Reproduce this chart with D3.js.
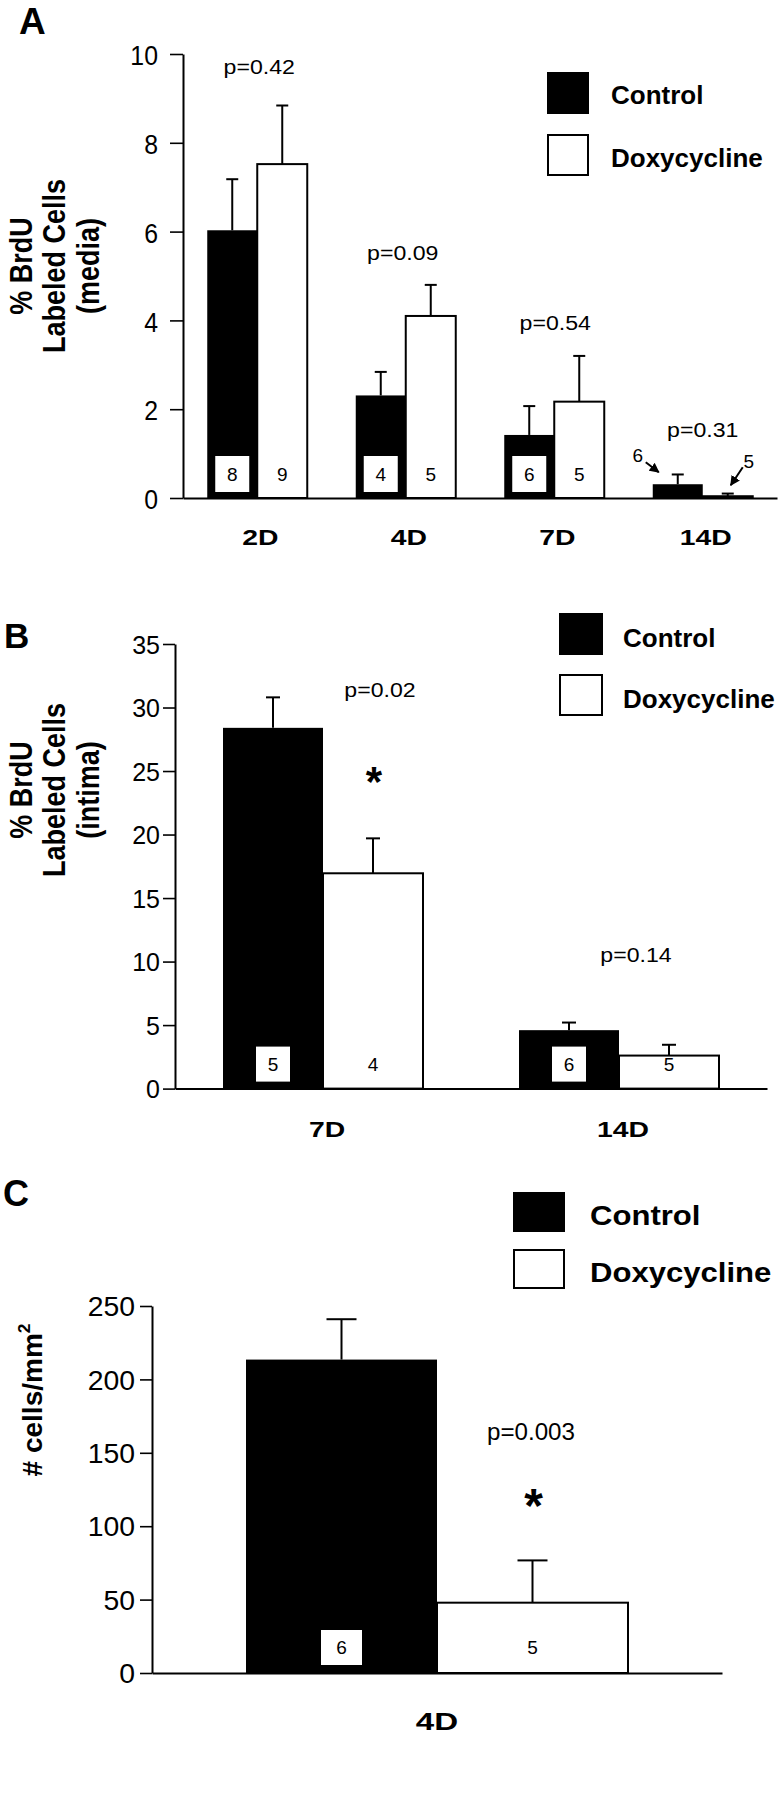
<!DOCTYPE html>
<html><head><meta charset="utf-8">
<script src="https://cdn.jsdelivr.net/npm/d3@7"></script>
<style>
body{margin:0;background:#fff}
svg{display:block;background:#fff}
text{font-family:"Liberation Sans",Arial,Helvetica,sans-serif;fill:#000}
</style>
</head><body>
<svg id="chart" width="778" height="1800"></svg>
<script>
// ---------------- DATA ----------------
const seriesNames = ["Control", "Doxycycline"];

// Panel A: % BrdU labeled cells (media)
const aCategories = ["2D", "4D", "7D", "14D"];
const aControl    = [6.03, 2.31, 1.42, 0.31];
const aControlErr = [1.15, 0.53, 0.65, 0.22];
const aDoxy       = [7.52, 4.10, 2.17, 0.04];
const aDoxyErr    = [1.32, 0.70, 1.03, 0.06];
const aControlN   = [8, 4, 6, 6];
const aDoxyN      = [9, 5, 5, 5];
const aPValues    = ["p=0.42", "p=0.09", "p=0.54", "p=0.31"];
const aSignificant = [false, false, false, false];
const aYTicks     = [0, 2, 4, 6, 8, 10];
const aYTitle     = ["% BrdU", "Labeled Cells", "(media)"];

// Panel B: % BrdU labeled cells (intima)
const bCategories = ["7D", "14D"];
const bControl    = [28.4, 4.6];
const bControlErr = [2.4, 0.6];
const bDoxy       = [16.95, 2.6];
const bDoxyErr    = [2.75, 0.85];
const bControlN   = [5, 6];
const bDoxyN      = [4, 5];
const bPValues    = ["p=0.02", "p=0.14"];
const bSignificant = [true, false];
const bYTicks     = [0, 5, 10, 15, 20, 25, 30, 35];
const bYTitle     = ["% BrdU", "Labeled Cells", "(intima)"];

// Panel C: # cells/mm2
const cCategories = ["4D"];
const cControl    = [213.5];
const cControlErr = [27.5];
const cDoxy       = [47.9];
const cDoxyErr    = [28.8];
const cControlN   = [6];
const cDoxyN      = [5];
const cPValues    = ["p=0.003"];
const cSignificant = [true];
const cYTicks     = [0, 50, 100, 150, 200, 250];

// ---------------- LAYOUT ----------------
const svg = d3.select("#chart");
const defs = svg.append("defs");
defs.append("marker").attr("id", "arrowhead")
  .attr("viewBox", "0 0 10 10").attr("refX", 9).attr("refY", 5)
  .attr("markerWidth", 5).attr("markerHeight", 5).attr("orient", "auto")
  .attr("markerUnits", "strokeWidth")
  .append("path").attr("d", "M0,0L10,5L0,10Z").attr("fill", "#000");

function addText(g, x, y, txt, o) {
  return g.append("text")
    .attr("transform", o.rotate
      ? `translate(${x},${y}) rotate(-90) scale(1,${o.sx || 1})`
      : `translate(${x},${y}) scale(${o.sx || 1},1)`)
    .attr("font-size", o.size)
    .attr("font-weight", o.weight || "normal")
    .attr("text-anchor", o.anchor || "start")
    .text(txt);
}

const panels = [
  {
    letter: "A", letterX: 19, letterY: 34, letterSize: 37,
    categories: aCategories, control: aControl, controlErr: aControlErr,
    doxy: aDoxy, doxyErr: aDoxyErr, controlN: aControlN, doxyN: aDoxyN,
    pValues: aPValues, significant: aSignificant, yTicks: aYTicks,
    yMax: 10, y0: 498, yTop: 54, axisX: 183, axisEnd: 777,
    barW: 50, capW: 12, tickSize: 13, tickPad: 12, tickFont: 27, tickSx: 0.92, tickDy: 2,
    xLabelDx: 3, xLabelDy: 47, xLabelSize: 22.5, xLabelSx: 1.26,
    boxW: 34, boxH: 36, boxGap: 6, nFont: 19,
    pFont: 21, pSx: 1.1, pDx: [2, -3, 1, 0], pDy: [-32, -25, -26, -37], pRef: "max",
    outsideN: [false, false, false, true],
    yTitle: aYTitle, yTitleX: [32, 65, 99], yTitleY: 266, yTitleSize: 27, yTitleSx: 1.17,
    legendX: 547, legendY: [72, 134], legendW: 42, legendH: 42,
    legendTextX: 611, legendTextY: [104, 167], legendFont: 26, legendSx: 1.0
  },
  {
    letter: "B", letterX: 4, letterY: 648, letterSize: 35,
    categories: bCategories, control: bControl, controlErr: bControlErr,
    doxy: bDoxy, doxyErr: bDoxyErr, controlN: bControlN, doxyN: bDoxyN,
    pValues: bPValues, significant: bSignificant, yTicks: bYTicks,
    yMax: 35, y0: 1088.6, yTop: 644, axisX: 175, axisEnd: 767,
    barW: 100, capW: 14, tickSize: 12, tickPad: 3, tickFont: 25, tickSx: 1.0, tickDy: 1,
    xLabelDx: 4, xLabelDy: 48.5, xLabelSize: 22.5, xLabelSx: 1.26,
    boxW: 34, boxH: 35, boxGap: 7, nFont: 19,
    pFont: 21, pSx: 1.1, pDx: [57, 17], pDy: [-141, -83], pRef: "doxy",
    starSize: 42, starGap: 67,
    outsideN: [false, false],
    yTitle: bYTitle, yTitleX: [32, 65, 99], yTitleY: 790, yTitleSize: 27, yTitleSx: 1.17,
    legendX: 559, legendY: [613, 674], legendW: 44, legendH: 42,
    legendTextX: 623, legendTextY: [647, 708], legendFont: 26, legendSx: 1.0
  },
  {
    letter: "C", letterX: 3, letterY: 1206, letterSize: 36,
    categories: cCategories, control: cControl, controlErr: cControlErr,
    doxy: cDoxy, doxyErr: cDoxyErr, controlN: cControlN, doxyN: cDoxyN,
    pValues: cPValues, significant: cSignificant, yTicks: cYTicks,
    yMax: 250, y0: 1673, yTop: 1306, axisX: 152, axisEnd: 722,
    barW: 191, capW: 30, tickSize: 12, tickPad: 5, tickFont: 27, tickSx: 1.05, tickDy: 1,
    xLabelDx: 0, xLabelDy: 57, xLabelSize: 24, xLabelSx: 1.38,
    boxW: 41, boxH: 35, boxGap: 8, nFont: 19,
    pFont: 23, pSx: 1.05, pDx: [94], pDy: [-120], pRef: "doxy",
    starSize: 48, starGap: 66,
    outsideN: [false],
    yTitleC: true, yTitleX: [42], yTitleY: 1400, yTitleSize: 28, yTitleSx: 1.0,
    legendX: 513, legendY: [1192, 1249], legendW: 52, legendH: 40,
    legendTextX: 590, legendTextY: [1225, 1282], legendFont: 28, legendSx: 1.11
  }
];

function drawPanel(cfg) {
  const g = svg.append("g");
  const y = d3.scaleLinear().domain([0, cfg.yMax]).range([cfg.y0, cfg.yTop]);
  const x0 = d3.scaleBand().domain(cfg.categories).range([cfg.axisX, cfg.axisEnd]).padding(0);
  const bw = x0.bandwidth();
  const x1 = d3.scaleBand().domain(["control", "doxy"])
    .range([bw / 2 - cfg.barW, bw / 2 + cfg.barW]).padding(0);

  const rows = cfg.categories.map((cat, i) => ({
    cat, i,
    bars: [
      { key: "control", value: cfg.control[i], err: cfg.controlErr[i], n: cfg.controlN[i] },
      { key: "doxy", value: cfg.doxy[i], err: cfg.doxyErr[i], n: cfg.doxyN[i] }
    ]
  }));

  // panel letter
  addText(g, cfg.letterX, cfg.letterY, cfg.letter, { size: cfg.letterSize, weight: "bold" });

  // y axis
  const yAxis = g.append("g").attr("transform", `translate(${cfg.axisX},0)`)
    .call(d3.axisLeft(y).tickValues(cfg.yTicks).tickFormat(d3.format("d"))
      .tickSize(cfg.tickSize).tickPadding(cfg.tickPad).tickSizeOuter(0));
  yAxis.attr("font-size", cfg.tickFont).attr("font-family", null);
  yAxis.select(".domain").attr("stroke", "#000").attr("stroke-width", 2);
  yAxis.selectAll(".tick line").attr("stroke", "#000").attr("stroke-width", 1.6);
  yAxis.selectAll(".tick text").each(function () {
    const t = d3.select(this);
    const xx = +t.attr("x");
    t.attr("x", 0).attr("transform", `translate(${xx},${cfg.tickDy}) scale(${cfg.tickSx},1)`);
  });

  // groups
  const grp = g.selectAll("g.group").data(rows).join("g")
    .attr("class", "group")
    .attr("transform", d => `translate(${x0(d.cat)},0)`);

  // bars
  grp.selectAll("rect.bar").data(d => d.bars).join("rect")
    .attr("class", "bar")
    .attr("x", b => x1(b.key))
    .attr("width", x1.bandwidth())
    .attr("y", b => y(b.value))
    .attr("height", b => cfg.y0 - y(b.value))
    .attr("fill", b => b.key === "control" ? "#000" : "#fff")
    .attr("stroke", "#000")
    .attr("stroke-width", b => b.key === "control" ? 0 : 2);

  // error bars
  const eb = grp.selectAll("g.err").data(d => d.bars).join("g").attr("class", "err");
  eb.append("line")
    .attr("x1", b => x1(b.key) + x1.bandwidth() / 2)
    .attr("x2", b => x1(b.key) + x1.bandwidth() / 2)
    .attr("y1", b => y(b.value))
    .attr("y2", b => y(b.value + b.err))
    .attr("stroke", "#000").attr("stroke-width", 2);
  eb.append("line")
    .attr("x1", b => x1(b.key) + x1.bandwidth() / 2 - cfg.capW / 2)
    .attr("x2", b => x1(b.key) + x1.bandwidth() / 2 + cfg.capW / 2)
    .attr("y1", b => y(b.value + b.err))
    .attr("y2", b => y(b.value + b.err))
    .attr("stroke", "#000").attr("stroke-width", 2);

  // x axis (baseline + category labels)
  const xAxis = g.append("g").attr("transform", `translate(0,${cfg.y0})`)
    .call(d3.axisBottom(x0).tickSize(0).tickSizeOuter(0));
  xAxis.attr("font-family", null);
  xAxis.select(".domain").attr("stroke", "#000").attr("stroke-width", 2);
  xAxis.selectAll(".tick text")
    .attr("y", 0).attr("dy", null)
    .attr("font-size", cfg.xLabelSize).attr("font-weight", "bold")
    .attr("transform", `translate(${cfg.xLabelDx},${cfg.xLabelDy}) scale(${cfg.xLabelSx},1)`);

  // n labels
  rows.forEach(r => {
    const gx = x0(r.cat);
    const boxCy = cfg.y0 - cfg.boxGap - cfg.boxH / 2;
    if (!cfg.outsideN[r.i]) {
      const cb = gx + x1("control") + x1.bandwidth() / 2;
      g.append("rect").attr("x", cb - cfg.boxW / 2).attr("y", boxCy - cfg.boxH / 2)
        .attr("width", cfg.boxW).attr("height", cfg.boxH).attr("fill", "#fff");
      addText(g, cb, boxCy + cfg.nFont * 0.36, r.bars[0].n, { size: cfg.nFont, anchor: "middle" });
      const db = gx + x1("doxy") + x1.bandwidth() / 2;
      addText(g, db, boxCy + cfg.nFont * 0.36, r.bars[1].n, { size: cfg.nFont, anchor: "middle" });
    } else {
      const cLeft = gx + x1("control"), cTop = y(r.bars[0].value);
      addText(g, cLeft - 15, cTop - 29 + cfg.nFont * 0.36, r.bars[0].n, { size: cfg.nFont, anchor: "middle" });
      g.append("line").attr("x1", cLeft - 7).attr("y1", cTop - 22)
        .attr("x2", cLeft + 6).attr("y2", cTop - 12)
        .attr("stroke", "#000").attr("stroke-width", 2).attr("marker-end", "url(#arrowhead)");
      const dLeft = gx + x1("doxy"), dTop = y(r.bars[1].value);
      addText(g, dLeft + 46, dTop - 35 + cfg.nFont * 0.36, r.bars[1].n, { size: cfg.nFont, anchor: "middle" });
      g.append("line").attr("x1", dLeft + 40).attr("y1", dTop - 29)
        .attr("x2", dLeft + 28).attr("y2", dTop - 11)
        .attr("stroke", "#000").attr("stroke-width", 2).attr("marker-end", "url(#arrowhead)");
    }
  });

  // p-values and significance stars
  rows.forEach(r => {
    const gc = x0(r.cat) + bw / 2;
    const ctrlTop = y(r.bars[0].value + r.bars[0].err);
    const doxyTop = y(r.bars[1].value + r.bars[1].err);
    const ref = cfg.pRef === "max" ? Math.min(ctrlTop, doxyTop) : doxyTop;
    addText(g, gc + cfg.pDx[r.i], ref + cfg.pDy[r.i], cfg.pValues[r.i],
      { size: cfg.pFont, anchor: "middle", sx: cfg.pSx });
    if (cfg.significant[r.i]) {
      const sx = x0(r.cat) + x1("doxy") + x1.bandwidth() / 2 + 1;
      const sy = doxyTop - cfg.starGap + cfg.starSize * 0.58;
      addText(g, sx, sy, "*", { size: cfg.starSize, weight: "bold", anchor: "middle" });
    }
  });

  // y title
  if (cfg.yTitleC) {
    const t = addText(g, cfg.yTitleX[0], cfg.yTitleY, "# cells/mm", {
      size: cfg.yTitleSize, weight: "bold", anchor: "middle", rotate: true, sx: cfg.yTitleSx });
    t.append("tspan").attr("font-size", cfg.yTitleSize * 0.62).attr("dy", -cfg.yTitleSize * 0.42).text("2");
  } else {
    cfg.yTitle.forEach((line, k) => {
      addText(g, cfg.yTitleX[k], cfg.yTitleY, line, {
        size: cfg.yTitleSize, weight: "bold", anchor: "middle", rotate: true, sx: cfg.yTitleSx });
    });
  }

  // legend
  seriesNames.forEach((name, k) => {
    g.append("rect")
      .attr("x", cfg.legendX + (k ? 1 : 0)).attr("y", cfg.legendY[k] + (k ? 1 : 0))
      .attr("width", cfg.legendW - (k ? 2 : 0)).attr("height", cfg.legendH - (k ? 2 : 0))
      .attr("fill", k ? "#fff" : "#000")
      .attr("stroke", "#000").attr("stroke-width", k ? 2 : 0);
    addText(g, cfg.legendTextX, cfg.legendTextY[k], name, {
      size: cfg.legendFont, weight: "bold", sx: cfg.legendSx });
  });
}

panels.forEach(drawPanel);
</script>
</body></html>
